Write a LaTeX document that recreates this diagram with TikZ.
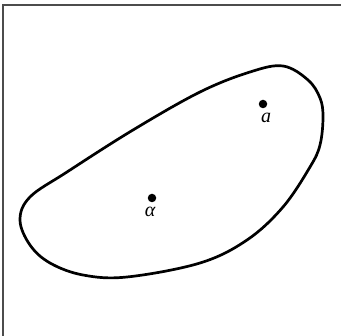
\documentclass[tikz,border=0pt]{standalone}
\usepackage{fontspec}
\setmainfont{Liberation Serif}
\begin{document}
\begin{tikzpicture}[x=1pt,y=-1pt,
  frame/.style={draw=black!70,line width=2pt},
  blob/.style={draw=black,line width=2.7pt},
  dotnode/.style={circle,fill=black,inner sep=0pt,minimum size=8.5pt},
  lbl/.style={font=\fontsize{20}{22}\selectfont\itshape,inner sep=0pt}]
\useasboundingbox (0,0) rectangle (341,336);
\fill[white] (0,0) rectangle (341,336);
\draw[frame] (3,345) -- (3,5) -- (350,5);
\draw[blob] plot[smooth cycle,tension=0.6] coordinates {
 (283,66) (308,80) (320,98) (323,117) (320,145) (310,167) (283,207) (247,240)
 (200,263) (127,277) (83,275) (50,263) (30,245) (20,220) (30,197) (67,172)
 (133,130) (200,92) (250,72)};
\node[dotnode] (pa) at (263,104) {};
\node[dotnode] (palpha) at (152,198) {};
\node[lbl] (la) at (266,118) {a};
\node[lbl] (lalpha) at (150,212) {α};
\end{tikzpicture}
\end{document}
